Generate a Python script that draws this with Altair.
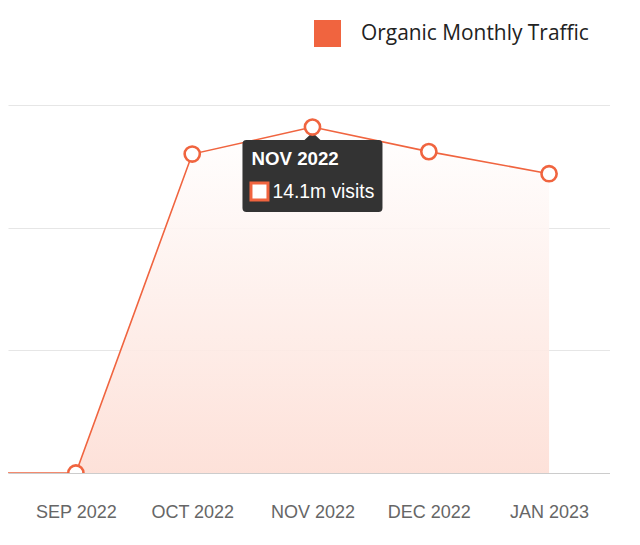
import altair as alt
import pandas as pd

# ---- data ----
months = ["2022-08-01", "2022-09-01", "2022-10-01", "2022-11-01", "2022-12-01", "2023-01-01"]
visits_m = [0.0, 0.0, 13.0, 14.1, 13.1, 12.2]
series_name = "Organic Monthly Traffic"
tick_months = ["2022-09-01", "2022-10-01", "2022-11-01", "2022-12-01", "2023-01-01"]
highlight_month = "2022-11-01"
y_ticks = [0, 5, 10, 15]

ORANGE = "#f0643f"

df = pd.DataFrame({"month": months, "visits": visits_m, "series": series_name})


def ms(s):
    return int(pd.Timestamp(s, tz="UTC").value // 10**6)


x_domain = [ms("2022-08-14T12:00:00"), ms("2023-01-16T17:00:00")]
tick_vals = [ms(m) for m in tick_months]

x = alt.X(
    "month:T",
    scale=alt.Scale(type="utc", domain=x_domain),
    axis=alt.Axis(
        values=tick_vals,
        labelExpr="upper(utcFormat(datum.value, '%b %Y'))",
        labelFont="Liberation Sans",
        labelFontSize=18,
        labelColor="#666666",
        labelPadding=30,
        ticks=False,
        grid=False,
        domain=True,
        domainColor="#cccccc",
        domainWidth=1.2,
        title=None,
    ),
)
y = alt.Y(
    "visits:Q",
    scale=alt.Scale(domain=[0, 15], nice=False),
    axis=alt.Axis(
        values=y_ticks,
        labels=False,
        ticks=False,
        domain=False,
        grid=True,
        gridColor="#e6e6e6",
        gridWidth=1.2,
        title=None,
    ),
)

base = alt.Chart(df)

area = base.transform_filter(
    alt.datum.month >= ms("2022-09-01")
).mark_area(
    clip=True,
    color=alt.Gradient(
        gradient="linear",
        stops=[
            alt.GradientStop(color="#ffffff", offset=0),
            alt.GradientStop(color="#fdded5", offset=1),
        ],
        x1=1, x2=1, y1=0, y2=1,
    ),
    opacity=0.9,
).encode(x=x, y=y)

line = base.mark_line(clip=True, strokeWidth=1.6).encode(
    x=x,
    y=y,
    color=alt.Color(
        "series:N",
        scale=alt.Scale(range=[ORANGE]),
        legend=alt.Legend(
            title=None,
            orient="none",
            legendX=306,
            legendY=-85,
            symbolType="square",
            symbolSize=729,
            symbolFillColor=ORANGE,
            symbolStrokeColor=ORANGE,
            symbolStrokeWidth=0,
            symbolOpacity=1,
            labelFont="Open Sans",
            labelFontSize=20.9,
            labelColor="#222222",
            labelOffset=20,
            labelLimit=0,
            padding=0,
        ),
    ),
)

tip_path = (
    "M-0.66,0.13 L-0.08,0.13 L0,0.055 L0.08,0.13 L0.66,0.13 "
    "Q0.70,0.13 0.70,0.17 L0.70,0.81 Q0.70,0.85 0.66,0.85 "
    "L-0.66,0.85 Q-0.70,0.85 -0.70,0.81 L-0.70,0.17 Q-0.70,0.13 -0.66,0.13 Z"
)

hl = base.transform_filter(alt.datum.month == ms(highlight_month)).transform_calculate(
    label="upper(utcFormat(datum.month, '%b %Y'))",
    value_txt="format(datum.visits, '.1f') + 'm visits'",
)

tip_box = hl.mark_point(
    shape=tip_path, size=40000, filled=True, fill="#333333", opacity=1, strokeWidth=0
).encode(x=x, y=y)

tip_title = hl.mark_text(
    align="left", baseline="middle", dx=-61, dy=32,
    font="Liberation Sans", fontSize=18.7, fontWeight="bold", color="#ffffff",
).encode(x=x, y=y, text="label:N")

tip_sq = hl.mark_point(
    shape="square", size=289, filled=True, fill="#ffffff", stroke=ORANGE,
    strokeWidth=3, opacity=1, xOffset=-53, yOffset=64.5,
).encode(x=x, y=y)

tip_val = hl.mark_text(
    align="left", baseline="middle", dx=-40, dy=65,
    font="Liberation Sans", fontSize=19.3, color="#ffffff",
).encode(x=x, y=y, text="value_txt:N")

points = base.transform_filter(
    alt.datum.month >= ms("2022-09-01")
).mark_point(
    clip=True, shape="circle", size=230, filled=True, fill="#ffffff",
    stroke=ORANGE, strokeWidth=2.6, opacity=1,
).encode(x=x, y=y)

chart = alt.layer(area, line, tip_box, tip_title, tip_sq, tip_val, points).properties(
    width=602,
    height=368,
    padding={"left": 0, "top": 12, "right": 0, "bottom": 0},
    background="#ffffff",
).configure_view(stroke=None)

chart.save("out.html", embed_options={"renderer": "svg", "actions": False})
